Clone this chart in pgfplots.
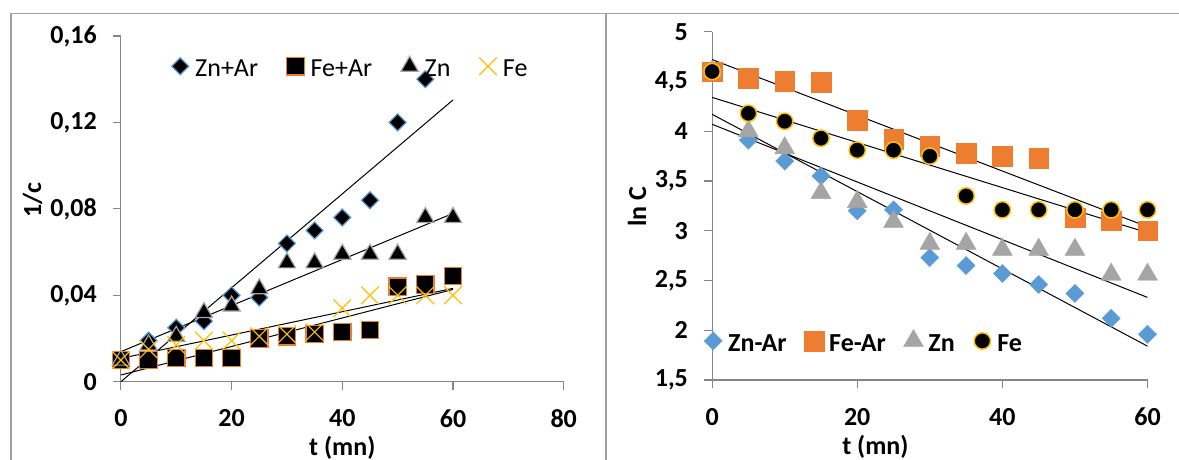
\documentclass[border=0pt]{standalone}
\usepackage{pgfplots}
\pgfplotsset{compat=1.18}
\usepackage{fontspec}
\setmainfont{Carlito}
\definecolor{cblue}{HTML}{5B9BD5}
\definecolor{corange}{HTML}{ED7D31}
\definecolor{cgray}{HTML}{A5A5A5}
\definecolor{cyellow}{HTML}{FFC000}
\definecolor{axgray}{HTML}{868686}
\definecolor{frgray}{HTML}{A0A0A0}
\newcommand\lgfont{\fontsize{26}{31}\selectfont}
\pgfplotsset{
  common/.style={
    scale only axis, anchor=south west,
    axis lines=left, axis line style={-, draw=axgray, line width=1.2pt},
    tick align=outside, major tick length=8pt,
    tick style={draw=axgray, line width=1.2pt},
    /pgf/number format/assume math mode=true,
    ticklabel style={font=\lgfont\bfseries, inner sep=0pt},
    xticklabel style={yshift=-20pt},
    yticklabel style={xshift=-16pt},
    clip=false,
  },
  trend/.style={black, line width=1pt, no markers, forget plot},
}
\begin{document}
\begin{tikzpicture}
\useasboundingbox (0pt,0pt) rectangle (1179pt,-459pt);
\draw[frgray, line width=1.2pt] (11pt,-480pt) -- (11pt,-13.5pt) -- (1200pt,-13.5pt);
\draw[frgray, line width=1.2pt] (606pt,-480pt) -- (606pt,-13.5pt);
% ---------------- left panel
\begin{axis}[common,
  at={(120.9pt,-381.7pt)}, width=442.8pt, height=345.7pt,
  xmin=0, xmax=80, ymin=0, ymax=0.16,
  xtick={0,20,40,60,80},
  ytick={0,0.04,0.08,0.12,0.16},
  yticklabels={0,{0,04},{0,08},{0,12},{0,16}},
  xlabel={t (mn)}, ylabel={1/c},
  every axis x label/.style={at={(axis description cs:0.5,0)}, anchor=center, yshift=-66.3pt, font=\lgfont\bfseries},
  every axis y label/.style={at={(axis description cs:-0.1996,0.5256)}, rotate=90, anchor=center, font=\lgfont\bfseries},
  legend style={at={(axis description cs:0.0488,0.9103)}, anchor=west, draw=none, fill=none,
    font=\lgfont, inner sep=0pt, column sep=0pt, nodes={inner sep=0pt}},
  legend columns=-1,
  legend image code/.code={\path[draw=none,fill=none] (-37.5pt,-7.6pt) rectangle (15pt,12.4pt);
    \draw[#1] plot coordinates {(0pt,2.4pt)};},
]
\addplot[only marks, mark=square*, mark size=6pt, mark options={rotate=45, fill=black, draw=cblue, line width=1.2pt}]
 coordinates {(0,0.010)(5,0.019)(10,0.025)(15,0.028)(20,0.040)(25,0.039)(30,0.064)(35,0.070)(40,0.076)(45,0.084)(50,0.120)(55,0.140)};
\addlegendentry{Zn+Ar}
\addplot[only marks, mark=square*, mark size=8.7pt, mark options={fill=black, draw=corange, line width=1.2pt}]
 coordinates {(0,0.010)(5,0.010)(10,0.011)(15,0.011)(20,0.011)(25,0.020)(30,0.021)(35,0.022)(40,0.023)(45,0.024)(50,0.044)(55,0.045)(60,0.049)};
\addlegendentry{Fe+Ar}
\addplot[only marks, mark=triangle*, mark size=10pt, mark options={fill=black, draw=cgray, line width=1.2pt}]
 coordinates {(0,0.010)(5,0.017)(10,0.021)(15,0.032)(20,0.035)(25,0.043)(30,0.055)(35,0.055)(40,0.059)(45,0.059)(50,0.059)(55,0.076)(60,0.076)};
\addlegendentry{Zn}
\addplot[only marks, mark=x, mark size=12.5pt, mark options={draw=cyellow, line width=1.2pt}]
 coordinates {(0,0.010)(5,0.015)(10,0.017)(15,0.019)(20,0.019)(25,0.021)(30,0.022)(35,0.023)(40,0.034)(45,0.040)(50,0.040)(55,0.040)(60,0.040)};
\addlegendentry{Fe}
\addplot[trend] coordinates {(0,0.000)(60,0.1304)};
\addplot[trend] coordinates {(0,0.0139)(60,0.0779)};
\addplot[trend] coordinates {(0,0.0031)(60,0.0427)};
\addplot[trend] coordinates {(0,0.0108)(60,0.0432)};
\end{axis}
% ---------------- right panel
\begin{axis}[common,
  at={(712.1pt,-380pt)}, width=435.4pt, height=348.3pt,
  xmin=0, xmax=60, ymin=1.5, ymax=5,
  xtick={0,20,40,60},
  ytick={1.5,2,2.5,3,3.5,4,4.5,5},
  yticklabels={{1,5},2,{2,5},3,{3,5},4,{4,5},5},
  xlabel={t (mn)}, ylabel={ln C},
  every axis x label/.style={at={(axis description cs:0.375,0)}, anchor=center, yshift=-67pt, font=\lgfont\bfseries},
  every axis y label/.style={at={(axis description cs:-0.1725,0.4967)}, rotate=90, anchor=center, font=\lgfont\bfseries},
  legend style={at={(axis description cs:-0.0611,0.112)}, anchor=west, draw=none, fill=none,
    font=\lgfont\bfseries, inner sep=0pt, column sep=0pt, nodes={inner sep=0pt}},
  legend columns=-1,
  legend image code/.code={\path[draw=none,fill=none] (-27.5pt,-7.6pt) rectangle (15pt,12.4pt);
    \draw[#1] plot coordinates {(0pt,2.4pt)};},
]
\addplot[only marks, mark=square*, mark size=6.4pt, mark options={rotate=45, fill=cblue, draw=cblue}]
 coordinates {(0,4.60)(5,3.91)(10,3.70)(15,3.55)(20,3.20)(25,3.21)(30,2.73)(35,2.65)(40,2.57)(45,2.46)(50,2.37)(55,2.12)(60,1.96)};
\addlegendentry{Zn-Ar}
\addplot[only marks, mark=square*, mark size=9.8pt, mark options={fill=corange, draw=corange}]
 coordinates {(0,4.60)(5,4.53)(10,4.50)(15,4.49)(20,4.11)(25,3.92)(30,3.85)(35,3.78)(40,3.75)(45,3.73)(50,3.13)(55,3.10)(60,3.00)};
\addlegendentry{Fe-Ar}
\addplot[only marks, mark=triangle*, mark size=11.5pt, mark options={fill=cgray, draw=cgray}]
 coordinates {(0,4.60)(5,4.00)(10,3.83)(15,3.38)(20,3.29)(25,3.09)(30,2.87)(35,2.87)(40,2.81)(45,2.81)(50,2.81)(55,2.56)(60,2.56)};
\addlegendentry{Zn}
\addplot[only marks, mark=*, mark size=8.2pt, mark options={fill=black, draw=cyellow, line width=1.5pt}]
 coordinates {(0,4.60)(5,4.18)(10,4.10)(15,3.93)(20,3.81)(25,3.81)(30,3.75)(35,3.35)(40,3.21)(45,3.21)(50,3.21)(55,3.21)(60,3.21)};
\addlegendentry{Fe}
\addplot[trend] coordinates {(0,4.72)(60,3.04)};
\addplot[trend] coordinates {(0,4.34)(60,2.98)};
\addplot[trend] coordinates {(0,4.17)(60,1.84)};
\addplot[trend] coordinates {(0,4.07)(60,2.33)};
\end{axis}
\end{tikzpicture}
\end{document}
